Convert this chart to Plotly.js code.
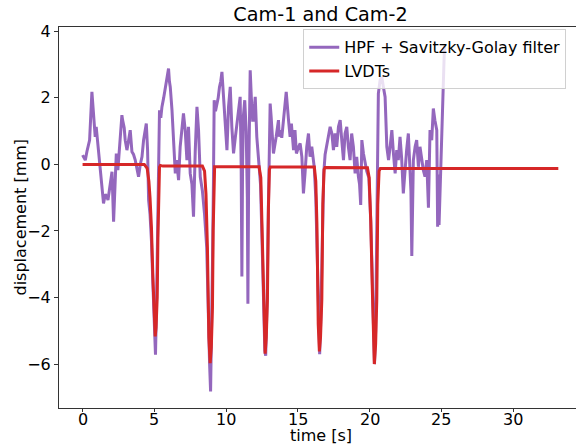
<!DOCTYPE html>
<html>
<head>
<meta charset="utf-8">
<script src="https://cdn.plot.ly/plotly-3.0.1.min.js"></script>
<style>
html, body { margin: 0; padding: 0; overflow: hidden; background: #fff; }
#chart { width: 584px; height: 445px; }
</style>
</head>
<body>
<div id="chart"></div>
<script>
// HPF + Savitzky-Golay filter (time [s], displacement [mm])
const hpfTime = [0.00,0.19,0.30,0.49,0.65,0.77,0.88,0.95,1.05,1.19,1.35,1.46,1.58,1.70,1.77,1.90,2.05,2.16,2.25,2.35,2.46,2.60,2.74,2.79,2.90,2.97,3.09,3.20,3.32,3.44,3.55,3.67,3.78,3.90,4.02,4.14,4.25,4.38,4.44,4.53,4.60,4.70,4.80,4.90,4.98,5.05,5.08,5.14,5.22,5.30,5.36,5.45,5.53,5.65,5.76,5.88,5.99,6.05,6.11,6.23,6.34,6.46,6.55,6.69,6.80,6.92,7.03,7.15,7.27,7.38,7.50,7.62,7.73,7.85,7.97,8.08,8.20,8.35,8.50,8.65,8.75,8.85,8.92,8.98,9.05,9.12,9.17,9.26,9.36,9.45,9.54,9.63,9.71,9.84,9.94,10.06,10.17,10.29,10.40,10.52,10.64,10.75,10.87,10.98,11.05,11.10,11.15,11.20,11.30,11.40,11.48,11.52,11.57,11.62,11.68,11.76,11.85,11.91,12.03,12.14,12.25,12.40,12.50,12.60,12.70,12.76,12.85,12.95,13.07,13.14,13.30,13.49,13.65,13.70,13.77,13.88,14.00,14.19,14.35,14.46,14.55,14.70,14.80,14.90,15.03,15.16,15.28,15.39,15.50,15.62,15.74,15.85,15.97,16.05,16.14,16.25,16.35,16.45,16.52,16.60,16.70,16.80,16.90,17.06,17.15,17.25,17.37,17.48,17.60,17.71,17.83,17.95,18.06,18.18,18.29,18.41,18.52,18.64,18.75,18.87,18.99,19.10,19.22,19.30,19.38,19.46,19.57,19.69,19.80,19.95,20.08,20.18,20.27,20.34,20.42,20.52,20.61,20.73,20.85,20.96,21.08,21.20,21.32,21.43,21.55,21.66,21.78,21.89,22.00,22.12,22.23,22.35,22.47,22.58,22.70,22.80,22.88,22.94,23.00,23.05,23.17,23.28,23.40,23.51,23.62,23.74,23.86,23.98,24.10,24.21,24.33,24.44,24.55,24.68,24.74,24.80,24.84,24.98,25.14,25.22];
const hpfDisp = [0.28,0.13,0.38,0.73,2.18,1.43,0.83,1.13,0.63,0.13,-0.67,-1.17,-0.90,-0.97,-1.07,-0.60,-0.22,-1.72,-0.50,0.33,-0.17,0.60,1.48,1.33,1.10,0.73,0.43,0.70,1.03,0.38,0.30,0.13,-0.10,-0.37,0.00,0.23,0.73,1.10,1.23,0.43,-1.07,-1.50,-2.30,-3.60,-4.90,-5.50,-5.72,-4.50,-2.00,0.53,1.63,1.40,1.73,2.00,2.33,2.63,2.88,2.50,2.33,1.63,0.83,-0.27,0.13,-0.47,0.53,1.00,1.53,1.03,0.13,1.13,-0.27,-0.60,-1.57,0.40,1.73,1.03,-0.37,-0.80,-1.50,-2.50,-4.50,-6.00,-6.82,-5.50,-3.00,-0.50,1.93,1.60,1.83,2.00,2.33,2.50,2.78,1.83,1.33,0.43,1.73,2.33,1.13,0.33,0.80,1.23,1.60,2.03,0.00,-3.37,0.00,1.43,1.93,1.00,-1.00,-4.19,-0.50,1.80,2.83,2.00,1.33,1.33,2.03,0.83,0.20,-0.60,-2.20,-4.00,-5.60,-5.75,-4.20,-1.20,1.83,1.43,0.33,0.83,1.33,0.83,1.03,0.80,1.43,2.18,1.33,0.83,1.23,0.43,1.03,0.33,0.50,0.63,0.23,-0.87,-0.27,0.53,0.93,0.23,0.53,0.20,-0.07,-1.00,-2.60,-5.00,-5.70,-4.60,-2.20,-0.30,0.30,0.63,0.90,1.13,0.93,0.43,0.93,0.53,1.13,1.33,0.73,0.13,0.93,1.13,0.53,0.13,0.93,0.53,-0.27,0.23,-0.37,-0.60,-1.22,0.73,0.33,0.03,-0.20,-0.40,-1.70,-3.30,-5.50,-6.00,-5.00,-2.00,2.13,2.53,2.63,2.33,2.03,0.53,0.13,0.53,1.03,0.33,-0.27,0.43,0.13,0.83,0.20,-0.87,0.00,0.43,0.93,-0.37,-0.80,-2.75,-0.50,0.13,0.53,0.73,-0.07,0.53,0.20,-0.17,-0.37,0.13,-1.30,1.03,0.73,1.68,1.33,1.03,-1.87,-0.30,-1.82,0.33,2.33,3.61];

// LVDTs (time [s], displacement [mm])
const lvdtTime = [0,4.30,4.50,4.62,4.70,4.80,4.90,5.00,5.06,5.12,5.20,5.25,5.30,5.36,5.42,5.60,8.35,8.50,8.60,8.70,8.80,8.89,8.97,9.05,9.10,9.15,9.20,12.30,12.42,12.50,12.60,12.67,12.72,12.80,12.88,12.95,13.02,13.08,16.15,16.25,16.33,16.42,16.50,16.58,16.67,16.74,16.83,16.90,19.85,19.97,20.08,20.18,20.27,20.33,20.42,20.50,20.57,20.66,20.75,33.15];
const lvdtDisp = [0,0,-0.12,-0.5,-1.0,-1.9,-3.4,-4.7,-5.17,-4.9,-4.0,-2.2,-0.8,-0.08,-0.03,-0.05,-0.05,-0.2,-0.9,-2.5,-5.2,-5.97,-5.5,-4.3,-2.0,-0.4,-0.07,-0.07,-0.4,-1.8,-3.8,-5.2,-5.69,-5.2,-4.07,-1.3,-0.15,-0.08,-0.08,-0.5,-1.8,-4.8,-5.62,-5.2,-4.07,-1.2,-0.15,-0.09,-0.1,-0.4,-1.7,-3.6,-5.5,-6.0,-5.4,-4.07,-1.2,-0.2,-0.12,-0.12];

const seriesNames = ["HPF + Savitzky-Golay filter", "LVDTs"];
const xTicks = [0, 5, 10, 15, 20, 25, 30];
const xTickLabels = ["0", "5", "10", "15", "20", "25", "30"];
const yTicks = [-6, -4, -2, 0, 2, 4];

const font = "DejaVu Sans, Verdana, sans-serif";

const traces = [
  { x: hpfTime, y: hpfDisp, name: seriesNames[0], type: "scatter", mode: "lines",
    line: { color: "#9467bd", width: 3 } },
  { x: lvdtTime, y: lvdtDisp, name: seriesNames[1], type: "scatter", mode: "lines",
    line: { color: "#d62728", width: 3 } }
];

// x tick labels placed through the x axis scale (closer to the axis, as in the reference)
const annotations = xTicks.map((v, i) => ({
  x: v, xref: "x", y: 0, yref: "paper", text: xTickLabels[i],
  showarrow: false, xanchor: "center", yanchor: "middle", yshift: -11.5, borderpad: 0,
  font: { family: font, size: 16, color: "#000" }
}));
annotations.push({
  x: 0.5, xref: "paper", y: 0, yref: "paper", text: "time [s]",
  showarrow: false, xanchor: "center", yanchor: "middle", yshift: -27, borderpad: 0,
  font: { family: font, size: 16, color: "#000" }
});
annotations.push({
  x: 0, xref: "paper", y: 0.5, yref: "paper", text: "displacement [mm]", textangle: -90,
  showarrow: false, xanchor: "center", yanchor: "middle", xshift: -39,
  font: { family: font, size: 16, color: "#000" }
});

const layout = {
  width: 584, height: 445,
  margin: { l: 59, r: 2, t: 27, b: 37 },
  paper_bgcolor: "#fff", plot_bgcolor: "#fff",
  font: { family: font, size: 16, color: "#000" },
  title: { text: "Cam-1 and Cam-2", font: { family: font, size: 19.2, color: "#000" },
           x: 0.5, xref: "paper", y: 0.968, yref: "container", yanchor: "middle" },
  showlegend: true,
  legend: { x: 0.467, y: 0.994, xanchor: "left", yanchor: "top",
            bgcolor: "rgba(255,255,255,0.8)", bordercolor: "#d0d0d0", borderwidth: 1,
            font: { family: font, size: 16, color: "#000" } },
  annotations: annotations,
  xaxis: {
    range: [-1.643, 34.8], tickvals: xTicks, showticklabels: false,
    ticks: "outside", ticklen: 3, tickcolor: "#333",
    showline: true, linecolor: "#333", linewidth: 1, mirror: true, showgrid: false, zeroline: false,
    automargin: false
  },
  yaxis: {
    range: [-7.32, 4.13], tickvals: yTicks, ticks: "outside", ticklen: 4, tickcolor: "#333",
    showline: true, linecolor: "#333", linewidth: 1, mirror: true, showgrid: false, zeroline: false,
    tickfont: { family: font, size: 16 }, automargin: false
  }
};

Plotly.newPlot("chart", traces, layout, { displayModeBar: false, staticPlot: true });
</script>
</body>
</html>
